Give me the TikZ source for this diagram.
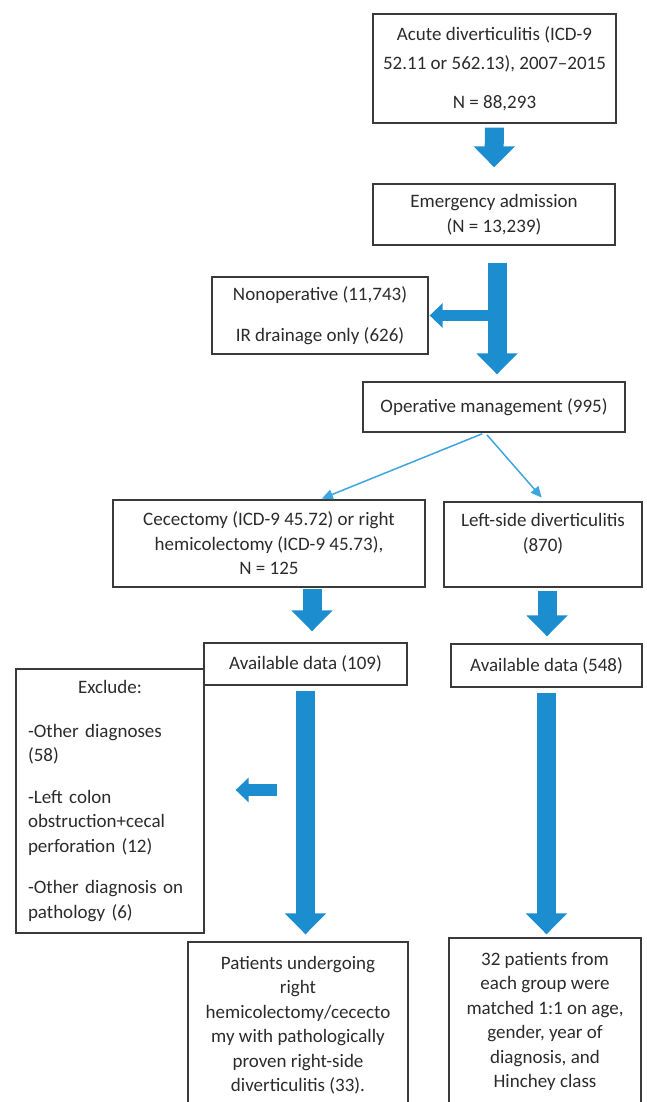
\documentclass[tikz,border=0pt]{standalone}
\usepackage{fontspec}
\setmainfont{Carlito}
\usetikzlibrary{positioning,arrows.meta}
\definecolor{azul}{HTML}{1C8ED0}
\definecolor{celeste}{HTML}{3DA5E0}
\definecolor{borde}{HTML}{3A3A3A}
\definecolor{texto}{HTML}{2B2B2B}

\begin{document}
\begin{tikzpicture}[x=1pt,y=-1pt,
      caja/.style={draw=borde,line width=1.3pt,inner sep=0pt,align=center,text=texto,
                   font=\fontsize{19}{24.5}\selectfont},
      flecha/.style={azul,line width=19pt,-{Triangle[length=21pt,width=40pt]}},
      flechita/.style={azul,line width=11.5pt,-{Triangle[length=13pt,width=24pt]}},
      flechafina/.style={celeste,line width=1.5pt,-{Triangle[length=11pt,width=10pt]}}]
    \useasboundingbox (0,0) rectangle (647,1102);
    \node[caja,minimum width=243pt,minimum height=109pt] (total) at (494.5,68.5)
      {Acute diverticulitis (ICD-9\\[5pt]52.11 or 562.13), 2007–2015\\[14pt]N = 88,293};
    \node[caja,minimum width=242pt,minimum height=61pt] (urgencia) at (494,214.5)
      {Emergency admission\\(N = 13,239)};
    \node[caja,minimum width=216pt,minimum height=77pt] (noop) at (320,315.5)
      {Nonoperative (11,743)\\[16pt]IR drainage only (626)};
    \node[caja,minimum width=262pt,minimum height=50pt] (operativo) at (494,407)
      {Operative management (995)};
    \node[caja,minimum width=312pt,minimum height=87pt] (cec) at (269,543.5)
      {Cecectomy (ICD-9 45.72) or right\\hemicolectomy (ICD-9 45.73),\\N = 125};
    \node[caja,minimum width=198pt,minimum height=85pt] (lado) at (543,544.5)
      {Left-side diverticulitis\\(870)\\\mbox{}};
    \node[caja,minimum width=203pt,minimum height=42pt] (disp1) at (305.5,664)
      {Available data (109)};
    \node[caja,minimum width=191pt,minimum height=43pt] (disp2) at (546.5,665.5)
      {Available data (548)};
    \node[caja,minimum width=188pt,minimum height=264pt,text width=164pt,align=left] (excluir) at (110,801)
      {\makebox[\hsize]{Exclude:}\\[19pt]-Other diagnoses\\(58)\\[17pt]-Left colon\\obstruction+cecal\\perforation (12)\\[17pt]-Other diagnosis on\\pathology (6)};
    \node[caja,minimum width=220pt,minimum height=166pt] (izq) at (298,1025)
      {Patients undergoing\\right\\hemicolectomy/cececto\\my with pathologically\\proven right-side\\diverticulitis (33).};
    \node[caja,minimum width=192pt,minimum height=167pt] (der) at (545,1021.5)
      {32 patients from\\each group were\\matched 1:1 on age,\\gender, year of\\diagnosis, and\\Hinchey class};
    \coordinate (rama) at (497,315.5);
    \coordinate (corte) at (277,790);
    % flechas anchas
    \draw[flecha,shorten <=4pt,shorten >=16pt] (total) -- (urgencia);
    \draw[flecha,shorten <=17pt,shorten >=7pt] ([xshift=3pt]urgencia.south) -- ([xshift=3pt]operativo.north);
    \draw[flechita,shorten >=1pt] (rama) -- (noop.east);
    \draw[flecha,shorten <=1pt,shorten >=11pt] ([xshift=43pt]cec.south) -- ([xshift=43pt]cec.south |- disp1.north);
    \draw[flecha,shorten <=5pt,shorten >=7pt] (disp1.south) -- (disp1.south |- izq.north);
    \draw[flechita,shorten >=31pt] (corte) -- (corte -| excluir.east);
    \draw[flecha,shorten <=3pt,shorten >=7pt] ([xshift=4pt]lado.south) -- ([xshift=4pt]lado.south |- disp2.north);
    \draw[flecha,shorten <=5pt,shorten >=3pt] (disp2.south) -- (disp2.south |- der.north);
    % flechas finas
    \draw[flechafina,shorten <=3pt,shorten >=2pt] ([xshift=-9pt]operativo.south) -- ([xshift=51pt]cec.north);
    \draw[flechafina,shorten <=3pt,shorten >=5pt] ([xshift=-9pt]operativo.south) -- ([xshift=2pt]lado.north);
  \end{tikzpicture}
\end{document}
